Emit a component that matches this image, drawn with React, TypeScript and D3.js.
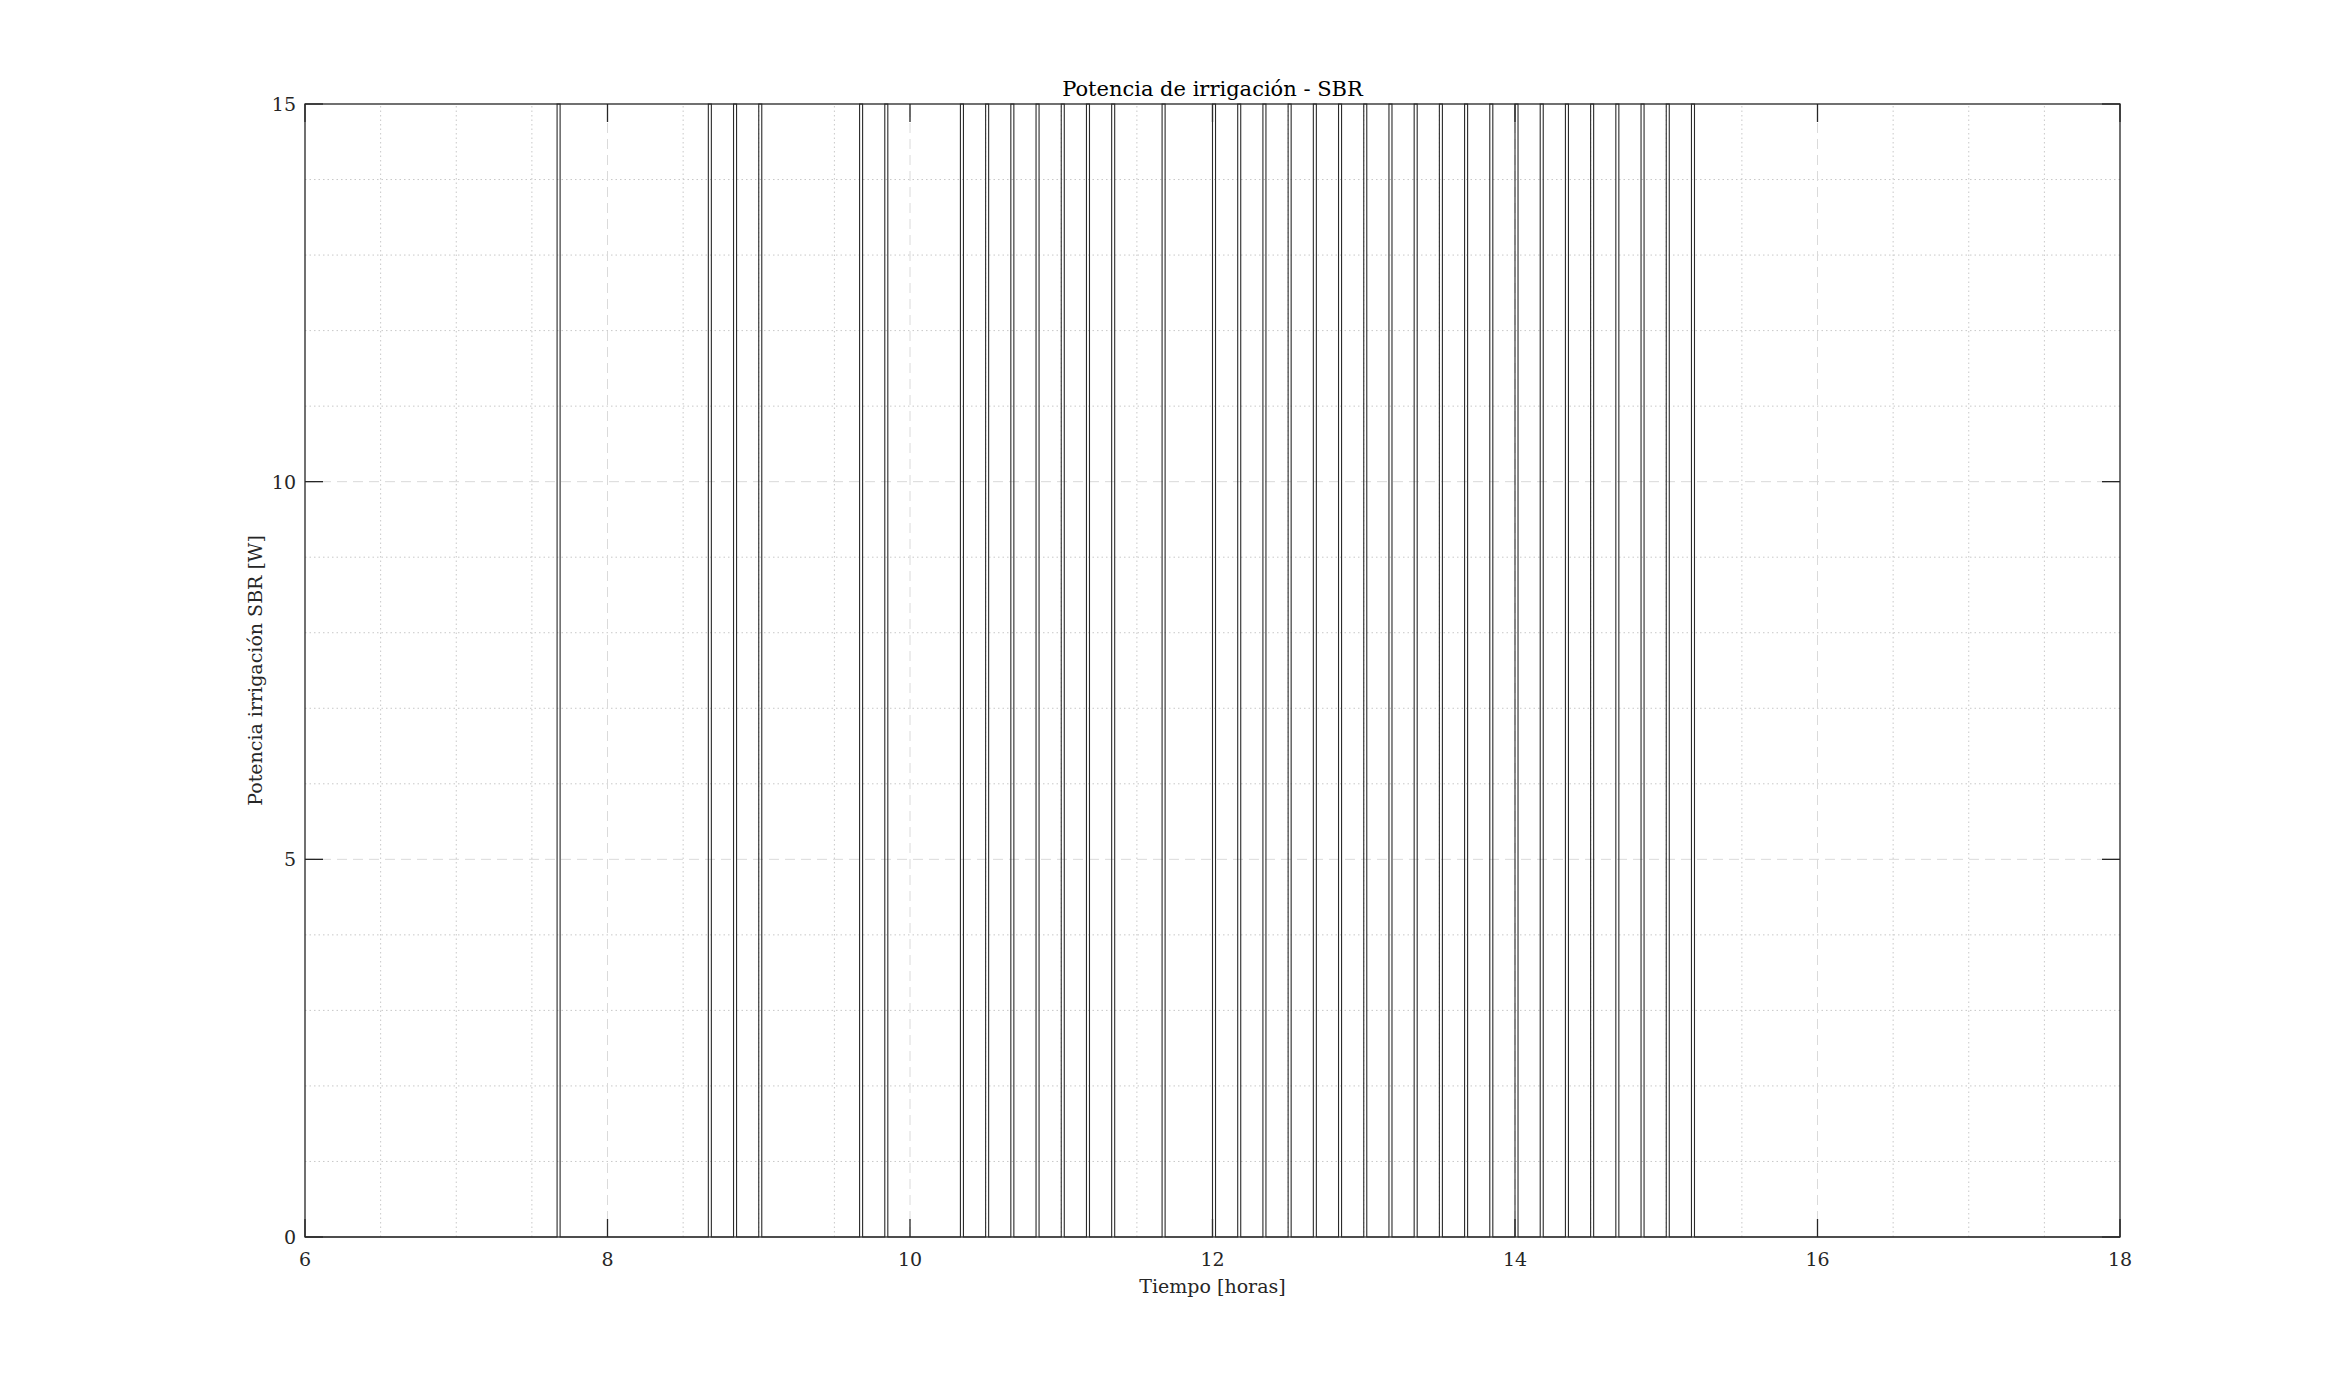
import React from 'react';
import * as d3 from 'd3';

// irrigation pump switch-on times (minutes after midnight), each pulse ~1 min long
const pulseStartMin = [
  460, 520, 530, 540, 580, 590,
  620, 630, 640, 650, 660, 670, 680, 700,
  720, 730, 740, 750, 760, 770, 780, 790, 800, 810,
  820, 830, 840, 850, 860, 870, 880, 890, 900, 910,
];
const pulseLengthMin = 1.2;
const pulsePower = 15;

const xTicks = [6, 8, 10, 12, 14, 16, 18];
const yTicks = [0, 5, 10, 15];
const xMinor = d3.range(6, 18.01, 0.5);
const yMinor = d3.range(0, 15.01, 1);

const W = 2344;
const H = 1391;
const margin = { top: 104, right: 224, bottom: 154, left: 305 };
const font = '"DejaVu Serif", "Liberation Serif", serif';
const ink = '#262626';

export default function App() {
  const x = d3.scaleLinear().domain([6, 18]).range([margin.left, W - margin.right]);
  const y = d3.scaleLinear().domain([0, 15]).range([H - margin.bottom, margin.top]);

  // build the step signal from the pulse list
  const pts: [number, number][] = [[6, 0]];
  pulseStartMin.forEach(m => {
    const s = m / 60;
    const e = (m + pulseLengthMin) / 60;
    pts.push([s, 0], [s, pulsePower], [e, pulsePower], [e, 0]);
  });
  pts.push([18, 0]);

  const line = d3.line<[number, number]>()
    .x(d => x(d[0]))
    .y(d => y(d[1]));

  const [x0, x1] = x.range();
  const [y0, y1] = y.range();
  const tickLen = 18;

  return (
    <svg width={W} height={H} style={{ position: 'absolute', left: 0, top: 0, background: '#fff' }}>
      <rect x={0} y={0} width={W} height={H} fill="#fff" />

      {/* minor grid */}
      <g stroke="#c8c8c8" strokeWidth={1} strokeDasharray="1.5 3">
        {xMinor.filter(v => !xTicks.includes(v)).map(v => (
          <line key={'xm' + v} x1={x(v)} x2={x(v)} y1={y0} y2={y1} />
        ))}
        {yMinor.filter(v => !yTicks.includes(v)).map(v => (
          <line key={'ym' + v} x1={x0} x2={x1} y1={y(v)} y2={y(v)} />
        ))}
      </g>

      {/* major grid */}
      <g stroke="#dadada" strokeWidth={1} strokeDasharray="10 6">
        {xTicks.slice(1, -1).map(v => (
          <line key={'xg' + v} x1={x(v)} x2={x(v)} y1={y0} y2={y1} />
        ))}
        {yTicks.slice(1, -1).map(v => (
          <line key={'yg' + v} x1={x0} x2={x1} y1={y(v)} y2={y(v)} />
        ))}
      </g>

      {/* box + ticks */}
      <g stroke={ink} strokeWidth={1.3} fill="none">
        <rect x={x0} y={y1} width={x1 - x0} height={y0 - y1} />
        {xTicks.map(v => (
          <g key={'xt' + v}>
            <line x1={x(v)} x2={x(v)} y1={y0} y2={y0 - tickLen} />
            <line x1={x(v)} x2={x(v)} y1={y1} y2={y1 + tickLen} />
          </g>
        ))}
        {yTicks.map(v => (
          <g key={'yt' + v}>
            <line x1={x0} x2={x0 + tickLen} y1={y(v)} y2={y(v)} />
            <line x1={x1} x2={x1 - tickLen} y1={y(v)} y2={y(v)} />
          </g>
        ))}
      </g>

      {/* signal */}
      <path d={line(pts) || ''} fill="none" stroke="#2b2b2b" strokeWidth={1.1} />

      {/* tick labels */}
      <g fontFamily={font} fontSize={19} fill={ink}>
        {xTicks.map(v => (
          <text key={'xl' + v} x={x(v)} y={y0 + 29} textAnchor="middle">{v}</text>
        ))}
        {yTicks.map(v => (
          <text key={'yl' + v} x={x0 - 9} y={y(v) + 7} textAnchor="end">{v}</text>
        ))}
      </g>

      <text x={(x0 + x1) / 2} y={96} textAnchor="middle" fontFamily={font} fontSize={21} fill="#000">
        Potencia de irrigación - SBR
      </text>
      <text x={(x0 + x1) / 2} y={1293} textAnchor="middle" fontFamily={font} fontSize={19} fill={ink}>
        Tiempo [horas]
      </text>
      <text
        transform={`translate(262,${(y0 + y1) / 2}) rotate(-90)`}
        textAnchor="middle"
        fontFamily={font}
        fontSize={19}
        fill={ink}
      >
        Potencia irrigación SBR [W]
      </text>
    </svg>
  );
}
